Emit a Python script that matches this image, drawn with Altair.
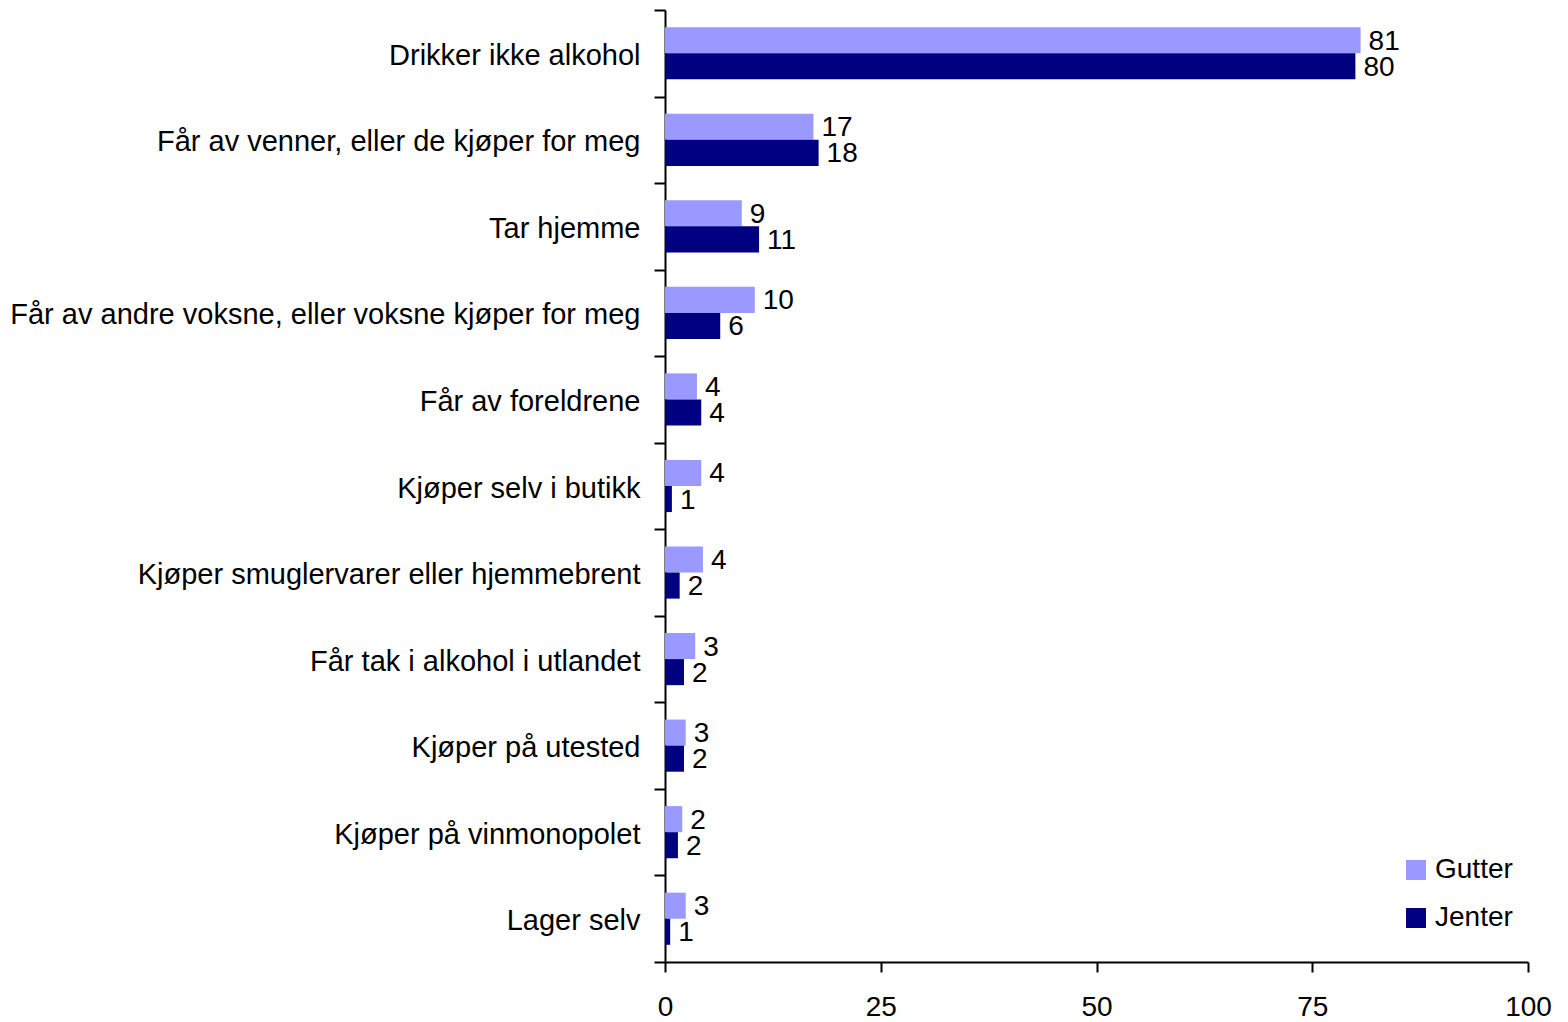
import altair as alt
import pandas as pd

categories = [
    "Drikker ikke alkohol",
    "Får av venner, eller de kjøper for meg",
    "Tar hjemme",
    "Får av andre voksne, eller voksne kjøper for meg",
    "Får av foreldrene",
    "Kjøper selv i butikk",
    "Kjøper smuglervarer eller hjemmebrent",
    "Får tak i alkohol i utlandet",
    "Kjøper på utested",
    "Kjøper på vinmonopolet",
    "Lager selv",
]
series = ["Gutter", "Jenter"]
gutter = [80.6, 17.2, 8.9, 10.4, 3.7, 4.2, 4.4, 3.5, 2.4, 2.0, 2.4]
jenter = [80.0, 17.8, 10.9, 6.4, 4.2, 0.8, 1.7, 2.2, 2.2, 1.5, 0.6]
gutter_labels = ["81", "17", "9", "10", "4", "4", "4", "3", "3", "2", "3"]
jenter_labels = ["80", "18", "11", "6", "4", "1", "2", "2", "2", "2", "1"]
colors = ["#9999FF", "#000080"]
x_ticks = [0, 25, 50, 75, 100]

rows = []
for i, c in enumerate(categories):
    rows.append({"kategori": c, "kjonn": series[0], "verdi": gutter[i], "etikett": gutter_labels[i]})
    rows.append({"kategori": c, "kjonn": series[1], "verdi": jenter[i], "etikett": jenter_labels[i]})
df = pd.DataFrame(rows)

FONT = "Liberation Sans"

y_enc = alt.Y(
    "kategori:N",
    sort=categories,
    title=None,
    scale=alt.Scale(paddingInner=0, paddingOuter=0),
    axis=alt.Axis(
        tickBand="extent",
        tickSize=11,
        tickWidth=2,
        tickColor="black",
        domainColor="black",
        domainWidth=2,
        labelFont=FONT,
        labelFontSize=29,
        labelColor="black",
        labelPadding=14,
        labelOffset=2,
        labelLimit=800,
    ),
)
x_enc = alt.X(
    "verdi:Q",
    title=None,
    scale=alt.Scale(domain=[0, 100], nice=False),
    axis=alt.Axis(
        values=x_ticks,
        grid=False,
        tickSize=10,
        tickWidth=2,
        tickColor="black",
        domainColor="black",
        domainWidth=2,
        labelFont=FONT,
        labelFontSize=28,
        labelColor="black",
        labelPadding=21,
        labelFlush=False,
    ),
)
yoff = alt.YOffset(
    "kjonn:N",
    sort=series,
    scale=alt.Scale(paddingInner=0, paddingOuter=0.66),
)

bars = alt.Chart(df).mark_bar().encode(
    y=y_enc,
    x=x_enc,
    yOffset=yoff,
    color=alt.Color(
        "kjonn:N",
        sort=series,
        scale=alt.Scale(domain=series, range=colors),
        legend=alt.Legend(
            title=None,
            orient="none",
            legendX=737,
            legendY=846,
            direction="vertical",
            symbolType="square",
            symbolSize=400,
            symbolStrokeWidth=0,
            symbolOpacity=1,
            labelFont=FONT,
            labelFontSize=28,
            labelColor="black",
            labelOffset=5,
            rowPadding=20,
            padding=0,
        ),
    ),
)

labels = alt.Chart(df).mark_text(
    align="left", baseline="middle", dx=8, dy=1.5, font=FONT, fontSize=28, color="black"
).encode(
    y=alt.Y("kategori:N", sort=categories),
    x=alt.X("verdi:Q"),
    yOffset=yoff,
    text="etikett:N",
)

chart = (
    alt.layer(bars, labels)
    .properties(
        width=863,
        height=952,
        padding={"left": 657, "top": 2, "right": 30, "bottom": 60},
        autosize="none",
    )
    .configure_view(stroke=None)
)

chart.save("out.html", embed_options={"renderer": "svg", "actions": False})
